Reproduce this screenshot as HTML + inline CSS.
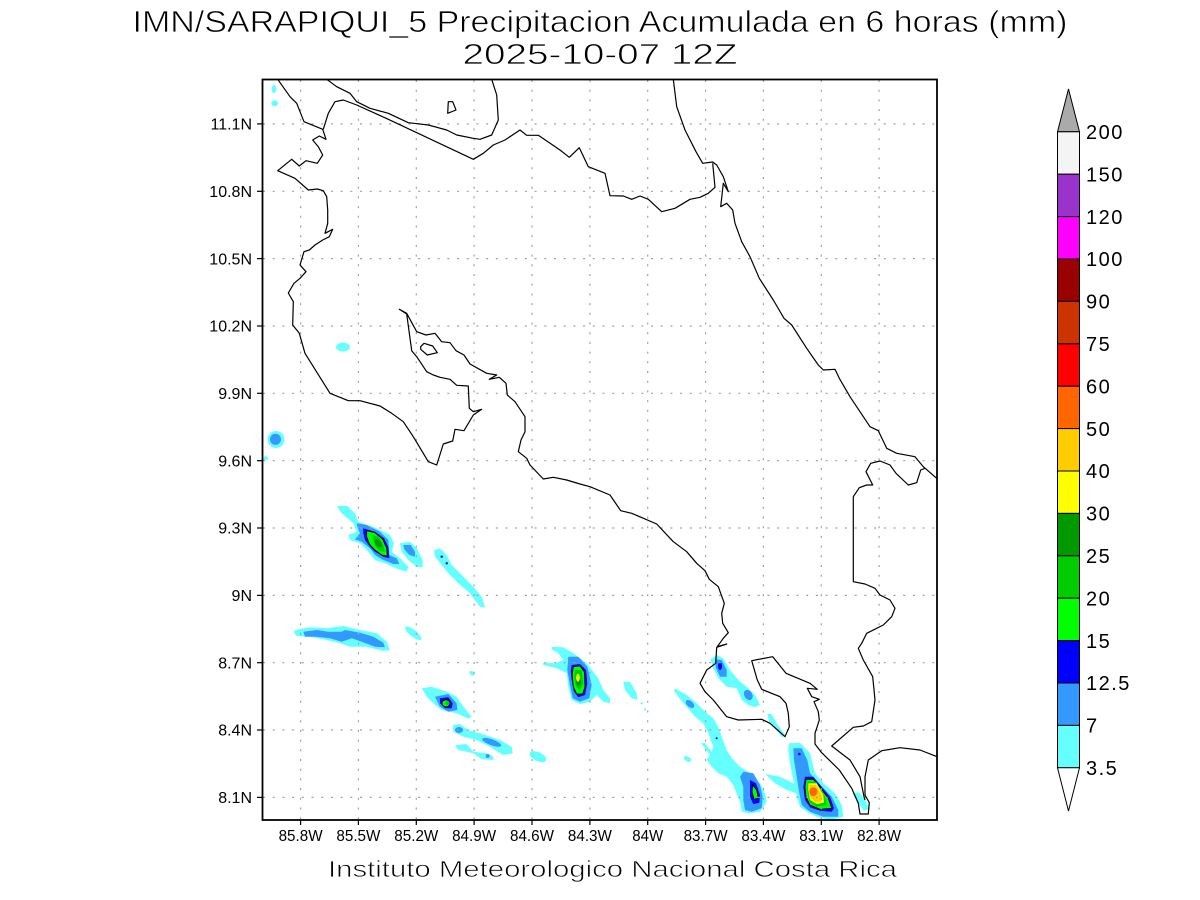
<!DOCTYPE html>
<html><head><meta charset="utf-8"><style>
html,body{margin:0;padding:0;background:#fff;}
svg{display:block;}
text{font-family:"Liberation Sans",sans-serif;fill:#000;}
</style></head><body>
<svg width="1200" height="900" viewBox="0 0 1200 900" xmlns="http://www.w3.org/2000/svg">
<rect width="1200" height="900" fill="#fff"/>

<!-- Title -->
<g stroke="#fff" stroke-width="0.7">
<text x="600" y="32" font-size="31" text-anchor="middle" textLength="935" lengthAdjust="spacingAndGlyphs">IMN/SARAPIQUI_5 Precipitacion Acumulada en 6 horas (mm)</text>
<text x="600" y="64" font-size="29" text-anchor="middle" textLength="275" lengthAdjust="spacingAndGlyphs">2025-10-07 12Z</text>
</g>

<!-- Precip fields -->
<g stroke="none">
<g fill="#66ffff">
<ellipse cx="274" cy="89" rx="2.5" ry="4"/>
<ellipse cx="274.7" cy="103.3" rx="3.5" ry="3"/>
<ellipse cx="343" cy="347" rx="7" ry="4.5"/>
<circle cx="276" cy="439.5" r="8.5"/>
<ellipse cx="265.5" cy="458.3" rx="2.5" ry="2"/>
<polygon points="338.3,506 347.3,506 355,513.3 358.3,521.7 373.3,526.7 390,535 394,543.3 391.7,551.7 400,558.3 408.3,566.7 406.7,571.7 398.3,569.3 386.7,564 375,560 368.3,551.7 360,543.3 350,540 348.3,535 356.7,531.7 353.3,523.3 341.7,513.3 337.3,507.3"/>
<polygon points="400,543.3 410,541.7 416.7,548.3 422.7,560 422.7,567.3 416.7,566.7 408.3,560 401.7,551.7"/>
<polygon points="434,550 440,548.3 446.7,555 451.7,565 460,573.3 473.3,586.7 481.7,596.7 485,607.3 480,606.7 470,593.3 458.3,583.3 450,575 441.7,565 435,556.7"/>
<polygon points="295,630 310,627.3 326.7,628.3 343.3,626 360,630 376.7,633.3 386.7,641.7 390,650 383.3,651 366.7,646.7 350,646.7 340,643.3 326.7,640 310,636.7 296.7,636 294,632.7"/>
<ellipse cx="413.3" cy="633.3" rx="10" ry="3.5" transform="rotate(38 413.3 633.3)"/>
<ellipse cx="472" cy="673.3" rx="3" ry="2" transform="rotate(30 472 673.3)"/>
<polygon points="421.7,688.3 431.7,686.7 446.7,691.7 456.7,696.7 463.3,706.7 471.7,716.7 468.3,718.7 456.7,713.3 441.7,710 433.3,703.3 426.7,696.7"/>
<polygon points="452.7,725 460,724 468.3,730 480,733.3 500,740 511.7,746.7 512.7,753.3 503.3,755 495,750 490,746.7 476.7,740 463.3,736.7 453.3,731.7"/>
<polygon points="455,745 466.7,744 473.3,751.7 486.7,753.3 493.3,756.7 493.3,760 481.7,759.3 473.3,753.3 458.3,750"/>
<ellipse cx="538" cy="756.7" rx="9" ry="4.5" transform="rotate(25 538 756.7)"/>
<polygon points="551.7,646.7 563.3,647.3 573.3,653.3 586.7,663.3 598.3,678.3 603.3,690 610,698.3 610,703.3 603.3,701.7 596.7,695 590,701.7 580,704 571.7,700 568.3,686.7 566.7,673.3 556.7,668.3 543.3,665 542.7,662.7 555,663.3 563.3,660 558.3,653.3 551.7,649.3"/>
<polygon points="623.3,681.7 630,681.7 636.7,693.3 637.3,700 631.7,698.3 625,690"/>
<circle cx="641.7" cy="703.3" r="1.2"/>
<circle cx="645" cy="709.3" r="1.2"/>
<ellipse cx="687.5" cy="759" rx="4" ry="2.5" transform="rotate(30 687.5 759)"/>
<polygon points="675,688.3 686.7,695 696.7,703.3 705,711.7 713.3,718.3 718.3,726.7 721.7,736.7 726.7,750 733.3,760 740,766.7 748.3,771.7 760,783.3 765,793.3 766.7,801.7 760,811.7 750,813.3 741.7,811.7 740,801.7 733.3,785 726.7,776.7 718.3,773.3 711.7,766.7 706.7,760 710,755 705,748.3 700.7,743.3 705,743.3 711.7,751.7 713.3,746.7 708.3,733.3 703.3,723.3 695,716.7 686.7,706.7 679.3,698.3 674,690.7"/>
<polygon points="765,774 780,776.7 793.3,783.3 800,790 796.7,793.3 786.7,790 775,783.3"/>
<polygon points="710.7,659.3 716.7,655 723.3,658.3 730,670 738.3,680 746.7,686.7 755,695 760,705 755,707.3 748.3,705 741.7,700 736.7,688.3 726.7,686.7 718.3,678.3 713.3,668.3"/>
<polygon points="767.3,714 771.7,714 776.7,723.3 785,735 781.7,737.3 776.7,730 769.3,721.7"/>
<polygon points="789.3,743.3 800,742.7 810,753.3 815,773.3 823.3,783.3 835,793.3 841.7,805 843.3,816.7 830,820 816.7,816.7 806.7,811.7 800,806.7 796.7,796.7 793.3,780 790,763.3 788.3,750"/>
<polygon points="852.3,793.3 859,792.3 865.7,800.7 869,809 864,810.7 857.3,802.3"/>
</g>
<g fill="#3399ff">
<circle cx="275.5" cy="439.3" r="5.5"/>
<polygon points="356.7,523.3 366.7,525 380,531.7 388.3,540 389.3,555 396.7,558.3 399.3,564 393.3,564 383.3,560 375,555 370,548.3 361.7,541.7 355,539.3 360,533.3 357.3,526.7"/>
<polygon points="403.3,545 410.7,545 415,551.7 415,556.7 409.3,555 404.3,549.3"/>
<polygon points="303.3,631.7 316.7,630 328.3,631.7 341.7,631.7 345,630 360,632.7 373.3,636.7 383.3,642.7 385,647.3 375,646.7 361.7,641.7 351.7,638.3 341.7,641.7 330,638.3 316.7,636.7 305,636.7"/>
<polygon points="435,696.7 448.3,694 456.7,703.3 457.3,710 448.3,711.7 440,706.7"/>
<ellipse cx="459" cy="730" rx="4" ry="3"/>
<ellipse cx="491.7" cy="742.3" rx="10" ry="3" transform="rotate(20 491.7 742.3)"/>
<circle cx="487.7" cy="756" r="2"/>
<polygon points="568.3,656.7 578.3,656.7 587.3,666.7 591.7,685 589.3,698.3 580,701.7 572.7,698.3 570,685 567.3,670"/>
<ellipse cx="690" cy="704" rx="5" ry="3" transform="rotate(40 690 704)"/>
<polygon points="743.3,771.7 753.3,773.3 760,785 762.7,796.7 761.7,808.3 751.7,811.7 745,810 743.3,800 743.3,786.7 740,776.7"/>
<polygon points="715,659.3 721.7,660 726.7,670 726.7,676.7 720,676.7 716,668.3"/>
<ellipse cx="748.3" cy="695" rx="4" ry="5.5" transform="rotate(-30 748.3 695)"/>
<polygon points="793.3,748.3 801.7,748.3 807.3,760 810,773.3 820,785 831.7,796.7 838.3,810 838.3,816.7 823.3,816.7 810,811.7 801.7,805 799.3,793.3 796.7,776.7 794,760"/>
</g>
<g fill="#0000ff">
<polygon points="363.3,528.3 375,531.7 384,538.3 388.3,546.7 389.3,558.3 383.3,556.7 375,551.7 370,546.7 365,540 363.3,533.3"/>
<polygon points="440,698.3 448.3,697.3 452.7,703.3 451.7,708.3 445,708.3 440,703.3"/>
<polygon points="571.7,665 580,664 586,670 587.3,683.3 585,695 578.3,697.3 574,691.7 571.7,680 570.7,671.7"/>
<polygon points="750,780 756,783.3 760,795 759.3,802.7 753.3,804 750,796.7"/>
<ellipse cx="720" cy="666" rx="2" ry="4"/>
<polygon points="805,776.7 813.3,776.7 821.7,786.7 830,796.7 834,808.3 831.7,811.7 820,810.7 810,807.3 805,800 803.3,786.7"/>
<circle cx="799.3" cy="754" r="1.3"/>
<circle cx="716.7" cy="738.3" r="1"/>
<circle cx="441.7" cy="556.7" r="1.2"/>
<circle cx="446.7" cy="563.3" r="1.2"/>
</g>
<g fill="#00ff00" stroke="#000" stroke-width="0.8">
<polygon points="366.7,530.7 375,532.7 382.7,539.3 386.7,548.3 387.3,556 381.7,555 375,550 369.3,544 366.7,536.7"/>
<ellipse cx="446" cy="703.3" rx="4" ry="3.5"/>
<polygon points="573.3,666.7 580,666 584.3,671.7 585,686.7 582.7,694 576.7,694 573.3,686.7 572.3,675"/>
<polygon points="752.7,785 756.7,790 758.3,798.3 754,799.3 752,791.7"/>
<polygon points="806,779.3 813.3,779.3 820.7,788.3 828.3,798.3 831.7,808.3 820,809.3 810,805 806,796.7 805,786.7"/>
</g>
<g fill="#00cc00">
<polygon points="371.7,535 378.3,536.7 383.3,545 385,551.7 380,551 375,546"/>
<polygon points="575,670 581.7,670 583.3,683.3 580,690 576,686.7 574.3,678.3"/>
<polygon points="807.7,781.7 816,781.7 825,796.7 826.7,805 816.7,806.7 809.3,801.7 807.3,790"/>
<circle cx="447.3" cy="703.3" r="1.8"/>
</g>
<g fill="#009900">
<ellipse cx="378.3" cy="543.3" rx="3" ry="4.5" transform="rotate(-30 378.3 543.3)"/>
<ellipse cx="578.5" cy="682" rx="2.5" ry="4"/>
</g>
<g fill="#ffff00">
<ellipse cx="578" cy="677.7" rx="1.8" ry="4"/>
<polygon points="808.3,783.3 816.7,783.3 823.3,795 824,802.7 816.7,804 810,800 808.3,790"/>
</g>
<g fill="#ffcc00">
<polygon points="809.3,785 816,785 821.7,795 821,801.7 815,801.7 810,796.7"/>
</g>
<ellipse cx="813.3" cy="791.7" rx="4" ry="4.5" fill="#ff6600"/>
</g>

<!-- Grid -->
<g stroke="#a0a0a0" stroke-width="1.2" stroke-dasharray="2 7.7" fill="none">
<line x1="300.6" y1="80" x2="300.6" y2="820"/>
<line x1="358.4" y1="80" x2="358.4" y2="820"/>
<line x1="416.3" y1="80" x2="416.3" y2="820"/>
<line x1="474.1" y1="80" x2="474.1" y2="820"/>
<line x1="532" y1="80" x2="532" y2="820"/>
<line x1="589.9" y1="80" x2="589.9" y2="820"/>
<line x1="647.7" y1="80" x2="647.7" y2="820"/>
<line x1="705.6" y1="80" x2="705.6" y2="820"/>
<line x1="763.4" y1="80" x2="763.4" y2="820"/>
<line x1="821.3" y1="80" x2="821.3" y2="820"/>
<line x1="879.1" y1="80" x2="879.1" y2="820"/>
<line x1="263" y1="123.9" x2="937" y2="123.9"/>
<line x1="263" y1="191.3" x2="937" y2="191.3"/>
<line x1="263" y1="258.6" x2="937" y2="258.6"/>
<line x1="263" y1="326" x2="937" y2="326"/>
<line x1="263" y1="393.3" x2="937" y2="393.3"/>
<line x1="263" y1="460.7" x2="937" y2="460.7"/>
<line x1="263" y1="528" x2="937" y2="528"/>
<line x1="263" y1="595.4" x2="937" y2="595.4"/>
<line x1="263" y1="662.7" x2="937" y2="662.7"/>
<line x1="263" y1="730" x2="937" y2="730"/>
<line x1="263" y1="797.4" x2="937" y2="797.4"/>
</g>

<!-- Coastlines -->
<g fill="none" stroke="#000" stroke-width="1.2" stroke-linejoin="round">
<polyline points="277.7,79.3 290,96.7 296.7,103.3 304,121.7 322.7,129.3 326,139.3 319.3,136 312.7,140 318.3,146.7 322.7,155 317.3,163.3 306,160.7 299.3,166 291.7,159.3 277.7,170.7 295,178.3 308.3,190 317.3,189 323.3,190.7 326.7,196.7 327.7,210 327.7,223.3 325,233.3 332.7,229.3 329.3,236.7 322.7,240 315,245 309.3,250 304,251.7 300,265 306,271.7 300,278.3 294,283.3 288.3,293 293.3,301.7 292.7,325 299.3,333.3 305,353.3 330,393.3 348.3,400.7 360,400.7 380,406 391.7,413.3 403.3,421.7 413.3,436.7 428.3,461.7 436.7,465 443.3,444 452.7,441 455,429.3 464,430.7 473.3,415 481.7,409.3 473.3,411.7 469.3,408.3 468.3,386 456.7,385.3 450,379.3 440,377.3 433.3,375 426.7,371.7 416.7,356.7 411.7,350.7 406.7,314 399.3,309.3 406.7,313.3 416.7,331.7 426,335 435,333.3 441.7,341.7 450,342.7 456,350.7 464,355 470,364 486.7,373.3 496.7,375 489.3,379.3 499.3,377.3 506,383.3 507.3,395 515,401.7 525,416.7 525,431.7 521,440 518.3,451.7 526.7,458.3 530,465 543.3,479 553.3,477.3 566.7,480 580,484 590,486.7 610,495 620.7,510.7 631.7,513.3 656.7,524 673.3,541.7 686.7,551.7 696.7,563.3 705,570.7 709.3,579.3 718.3,586.7 724.3,603.3 721.7,613.3 722.7,623.3 728.3,632.7 723.3,638.3 717.3,646.7 726.7,644 716.7,647.3 715.7,663.3 706.7,670 700,683.3 705,691.7 713.3,700 726.7,716.7 738.3,720 761.7,719.3 770,723.3 785,736.7 789.3,726.7 788.3,713.3 786,703.3 780,696.7 761.7,689.3 757.3,680 751.7,660.7 772.7,656.7 786,673.3 810,683.3 817.3,689.3 807.3,688.3 811.7,696.7 819.3,699.3 814,701.7 818.3,711.7 819.3,720 815,733.3 815,744 821.7,752.7 839.3,770 851.7,788.3 858.3,803.3 860,814 868.3,814 869.3,802.7 865,795 865,776.7 868.3,760 881.7,750.7 900,747.7 920,750 937,756.7"/>
<polyline points="326.7,79.3 336.7,86.7 350,93.3 356.7,101.7 370,108.3 388.3,113.3 408.3,122.7 428.3,125 446.7,130 456.7,135 473.3,138.3 480,139.3 491.7,135 498.3,120 496.7,95 491.7,79.3"/>
<polyline points="323.3,129.3 328.3,113.3 335,101.7 343.3,100 356.7,105 388.3,119.3 473.3,159.3 483.3,153.3 493.3,145 505,140 520,130 526.7,135.3 538.3,135.3 560,150 569.3,157.3 579.3,147.7 588.3,166.7 605,173.3 610,195.7 623.3,196 631.7,199.3 640,196 648.3,199.3 661.7,211.7 675,208.3 690,199.3 700,197.3 708.3,193.3 715,187.3 712.7,163.3"/>
<polyline points="673.3,79.3 676.7,106.7 685,130 696,151.7 702.7,163.3 712.7,162 716.7,165 723.3,176.7 728.3,191.7 723.3,183.3 720.7,206.7 726.7,203.3 732.7,210 735,223.3 741.7,241.7 750,256.7 759.3,278.3 773.3,300 784,318.3 791.7,325 806.7,348.3 818.3,365 823.3,370 835,369.3 839.3,378.3 850,396.7 870,426.7 878.3,430.7 886.7,448.3 896.7,453.3 915,456.7 923.3,466.7 936.7,478.3"/>
<polyline points="925,468.3 920.7,470 916.7,482.7 908.3,485 896,473.3 890,465 880,461 870.7,463.3 866,471.7 872.7,485 866.7,485 859.3,487.7 853.3,496.7 853.3,581.7 865,584 875,588.3 880,595 890,600 895,608.3 891.7,616.7 883.3,625 866.7,633.3 861.7,643.3 858.3,648.3 863.3,660 872.7,676.7 875,700 871.7,721.7 863.3,726 853.3,727.3 831.7,746 850,760 860,776.7 864,796.7 865,800"/>
<polygon points="448.3,101.7 452.7,101.7 456,110 447.7,113.3"/>
<polygon points="420.7,346.7 424,343.3 432.7,346 437.3,352.7 427.3,355 420.7,349.3"/>
</g>

<!-- Frame -->
<rect x="262.5" y="79.5" width="674.5" height="740.5" fill="none" stroke="#000" stroke-width="1.8"/>

<!-- ticks -->
<g stroke="#000" stroke-width="1.2">
<line x1="300.6" y1="820" x2="300.6" y2="825"/>
<line x1="358.4" y1="820" x2="358.4" y2="825"/>
<line x1="416.3" y1="820" x2="416.3" y2="825"/>
<line x1="474.1" y1="820" x2="474.1" y2="825"/>
<line x1="532" y1="820" x2="532" y2="825"/>
<line x1="589.9" y1="820" x2="589.9" y2="825"/>
<line x1="647.7" y1="820" x2="647.7" y2="825"/>
<line x1="705.6" y1="820" x2="705.6" y2="825"/>
<line x1="763.4" y1="820" x2="763.4" y2="825"/>
<line x1="821.3" y1="820" x2="821.3" y2="825"/>
<line x1="879.1" y1="820" x2="879.1" y2="825"/>
<line x1="257" y1="123.9" x2="262" y2="123.9"/>
<line x1="257" y1="191.3" x2="262" y2="191.3"/>
<line x1="257" y1="258.6" x2="262" y2="258.6"/>
<line x1="257" y1="326" x2="262" y2="326"/>
<line x1="257" y1="393.3" x2="262" y2="393.3"/>
<line x1="257" y1="460.7" x2="262" y2="460.7"/>
<line x1="257" y1="528" x2="262" y2="528"/>
<line x1="257" y1="595.4" x2="262" y2="595.4"/>
<line x1="257" y1="662.7" x2="262" y2="662.7"/>
<line x1="257" y1="730" x2="262" y2="730"/>
<line x1="257" y1="797.4" x2="262" y2="797.4"/>
</g>

<!-- x labels -->
<g font-size="16" text-anchor="middle">
<text x="300.6" y="841" textLength="44" lengthAdjust="spacingAndGlyphs">85.8W</text>
<text x="358.4" y="841" textLength="44" lengthAdjust="spacingAndGlyphs">85.5W</text>
<text x="416.3" y="841" textLength="44" lengthAdjust="spacingAndGlyphs">85.2W</text>
<text x="474.1" y="841" textLength="44" lengthAdjust="spacingAndGlyphs">84.9W</text>
<text x="532" y="841" textLength="44" lengthAdjust="spacingAndGlyphs">84.6W</text>
<text x="589.9" y="841" textLength="44" lengthAdjust="spacingAndGlyphs">84.3W</text>
<text x="647.7" y="841" textLength="31" lengthAdjust="spacingAndGlyphs">84W</text>
<text x="705.6" y="841" textLength="44" lengthAdjust="spacingAndGlyphs">83.7W</text>
<text x="763.4" y="841" textLength="44" lengthAdjust="spacingAndGlyphs">83.4W</text>
<text x="821.3" y="841" textLength="44" lengthAdjust="spacingAndGlyphs">83.1W</text>
<text x="879.1" y="841" textLength="44" lengthAdjust="spacingAndGlyphs">82.8W</text>
</g>
<!-- y labels -->
<g font-size="16" text-anchor="end">
<text x="252" y="129.6">11.1N</text>
<text x="252" y="197">10.8N</text>
<text x="252" y="264.3">10.5N</text>
<text x="252" y="331.7">10.2N</text>
<text x="252" y="399">9.9N</text>
<text x="252" y="466.4">9.6N</text>
<text x="252" y="533.7">9.3N</text>
<text x="252" y="601.1">9N</text>
<text x="252" y="668.4">8.7N</text>
<text x="252" y="735.7">8.4N</text>
<text x="252" y="803.1">8.1N</text>
</g>

<!-- Bottom caption -->
<text x="328" y="877" font-size="23" textLength="569" lengthAdjust="spacingAndGlyphs" fill="#222" stroke="#fff" stroke-width="0.7">Instituto Meteorologico Nacional Costa Rica</text>

<!-- Colorbar -->
<g stroke="#000" stroke-width="1">
<polygon points="1057.5,131.8 1068.5,89 1079.5,131.8" fill="#aaaaaa"/>
<rect x="1057.5" y="131.8" width="22" height="42.4" fill="#f4f4f4"/>
<rect x="1057.5" y="174.2" width="22" height="42.4" fill="#9933cc"/>
<rect x="1057.5" y="216.6" width="22" height="42.4" fill="#ff00ff"/>
<rect x="1057.5" y="259" width="22" height="42.4" fill="#990000"/>
<rect x="1057.5" y="301.4" width="22" height="42.4" fill="#cc3300"/>
<rect x="1057.5" y="343.8" width="22" height="42.4" fill="#ff0000"/>
<rect x="1057.5" y="386.2" width="22" height="42.4" fill="#ff6600"/>
<rect x="1057.5" y="428.6" width="22" height="42.4" fill="#ffcc00"/>
<rect x="1057.5" y="471" width="22" height="42.4" fill="#ffff00"/>
<rect x="1057.5" y="513.4" width="22" height="42.4" fill="#009900"/>
<rect x="1057.5" y="555.8" width="22" height="42.4" fill="#00cc00"/>
<rect x="1057.5" y="598.2" width="22" height="42.4" fill="#00ff00"/>
<rect x="1057.5" y="640.6" width="22" height="42.4" fill="#0000ff"/>
<rect x="1057.5" y="683" width="22" height="42.4" fill="#3399ff"/>
<rect x="1057.5" y="725.4" width="22" height="42.4" fill="#66ffff"/>
<polygon points="1057.5,767.8 1068.5,811 1079.5,767.8" fill="#ffffff"/>
</g>
<g font-size="20" style="letter-spacing:1.5px">
<text x="1086" y="139">200</text>
<text x="1086" y="181.4">150</text>
<text x="1086" y="223.8">120</text>
<text x="1086" y="266.2">100</text>
<text x="1086" y="308.6">90</text>
<text x="1086" y="351">75</text>
<text x="1086" y="393.4">60</text>
<text x="1086" y="435.8">50</text>
<text x="1086" y="478.2">40</text>
<text x="1086" y="520.6">30</text>
<text x="1086" y="563">25</text>
<text x="1086" y="605.4">20</text>
<text x="1086" y="647.8">15</text>
<text x="1086" y="690.2">12.5</text>
<text x="1086" y="732.6">7</text>
<text x="1086" y="775">3.5</text>
</g>
</svg>
</body></html>
